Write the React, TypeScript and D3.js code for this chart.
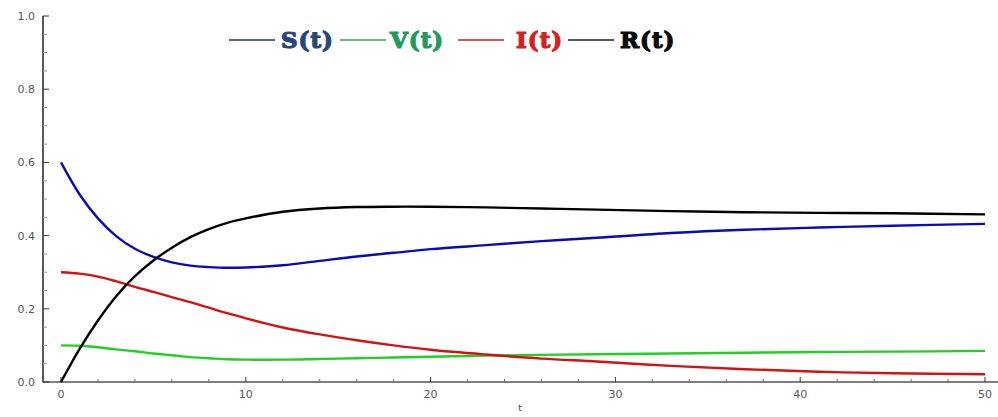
import React from "react";
import * as d3 from "d3";

const tValues = [0, 1, 2, 3, 4, 5, 6, 7, 8, 9, 10, 12, 14, 16, 18, 20, 23, 26, 29, 33, 37, 41, 45, 50];
const sValues = [0.6, 0.513, 0.447, 0.398, 0.364, 0.342, 0.327, 0.318, 0.314, 0.312, 0.313, 0.319, 0.331, 0.343, 0.353, 0.363, 0.374, 0.385, 0.394, 0.407, 0.416, 0.422, 0.427, 0.432];
const vValues = [0.1, 0.099, 0.095, 0.089, 0.084, 0.078, 0.073, 0.068, 0.065, 0.062, 0.061, 0.061, 0.063, 0.065, 0.067, 0.069, 0.072, 0.074, 0.076, 0.078, 0.08, 0.082, 0.083, 0.085];
const iValues = [0.3, 0.296, 0.288, 0.275, 0.26, 0.246, 0.232, 0.218, 0.203, 0.188, 0.174, 0.149, 0.13, 0.114, 0.1, 0.088, 0.075, 0.064, 0.056, 0.044, 0.035, 0.028, 0.024, 0.021];
const rValues = [0, 0.09, 0.168, 0.235, 0.289, 0.332, 0.367, 0.396, 0.418, 0.435, 0.447, 0.465, 0.474, 0.478, 0.479, 0.479, 0.477, 0.474, 0.471, 0.467, 0.464, 0.462, 0.461, 0.458];

const seriesNames = ["S(t)", "V(t)", "I(t)", "R(t)"];
const lineColors = ["#0a0ab8", "#22d022", "#d01414", "#000000"];
const textColors = ["#27477a", "#239a5c", "#d61f1f", "#0a0a0a"];
const legendLineColors = ["#2a3550", "#30a848", "#c82020", "#222222"];

const xTicks = [0, 10, 20, 30, 40, 50];
const yTicks = [0, 0.2, 0.4, 0.6, 0.8, 1.0];

export default function App() {
  const W = 998, H = 417;
  const x = d3.scaleLinear().domain([0, 50]).range([61, 985]);
  const y = d3.scaleLinear().domain([0, 1]).range([382, 16]);
  const allSeries = [sValues, vValues, iValues, rValues];
  const line = d3
    .line<number>()
    .x((_, i) => x(tValues[i]))
    .y((d) => y(d))
    .curve(d3.curveCatmullRom.alpha(0.5));

  const xMinor = d3.range(0, 51, 2).filter((v) => v % 10 !== 0);
  const yMinor = d3.range(0, 1.0001, 0.05).filter((v) => Math.abs((v * 10) % 2) > 0.01 && Math.abs((v * 10) % 2 - 2) > 0.01);

  const legendX = [229, 340, 458, 568];
  const legendTextX = [281, 390, 516, 620];

  return (
    <svg width={W} height={H} style={{ position: "absolute", left: 0, top: 0, background: "#fff" }}>
      {/* axes */}
      <line x1={43} x2={998} y1={382} y2={382} stroke="#555" strokeWidth={1.5} />
      <line x1={43} x2={43} y1={16} y2={382} stroke="#222" strokeWidth={1.5} />
      {yTicks.map((v) => (
        <g key={"y" + v}>
          <line x1={43} x2={49} y1={y(v)} y2={y(v)} stroke="#333" />
          <text x={35} y={y(v) + 4} textAnchor="end" fontSize={11} fill="#555" fontFamily="DejaVu Sans">
            {v.toFixed(1)}
          </text>
        </g>
      ))}
      {yMinor.map((v) => (
        <line key={"ym" + v} x1={43} x2={47} y1={y(v)} y2={y(v)} stroke="#999" />
      ))}
      {xTicks.map((v) => (
        <g key={"x" + v}>
          <line x1={x(v)} x2={x(v)} y1={382} y2={377} stroke="#333" />
          <text x={x(v)} y={398} textAnchor="middle" fontSize={11} fill="#555" fontFamily="DejaVu Sans">
            {v}
          </text>
        </g>
      ))}
      {xMinor.map((v) => (
        <line key={"xm" + v} x1={x(v)} x2={x(v)} y1={382} y2={379} stroke="#666" />
      ))}
      <text x={520} y={411} textAnchor="middle" fontSize={9} fill="#444" fontFamily="DejaVu Sans">
        t
      </text>

      {/* curves */}
      {allSeries.map((s, k) => (
        <path key={"c" + k} d={line(s) || ""} fill="none" stroke={lineColors[k]} strokeWidth={2.4} />
      ))}

      {/* legend */}
      {seriesNames.map((n, k) => (
        <g key={"l" + k}>
          <line x1={legendX[k]} x2={legendX[k] + 46} y1={40} y2={40} stroke={legendLineColors[k]} strokeWidth={1.5} />
          <text
            x={legendTextX[k]}
            y={48}
            fontSize={23}
            fontWeight="bold"
            fill={textColors[k]}
            stroke={textColors[k]}
            strokeWidth={1.2}
            letterSpacing={1}
            fontFamily="DejaVu Serif"
          >
            {n}
          </text>
        </g>
      ))}
    </svg>
  );
}
